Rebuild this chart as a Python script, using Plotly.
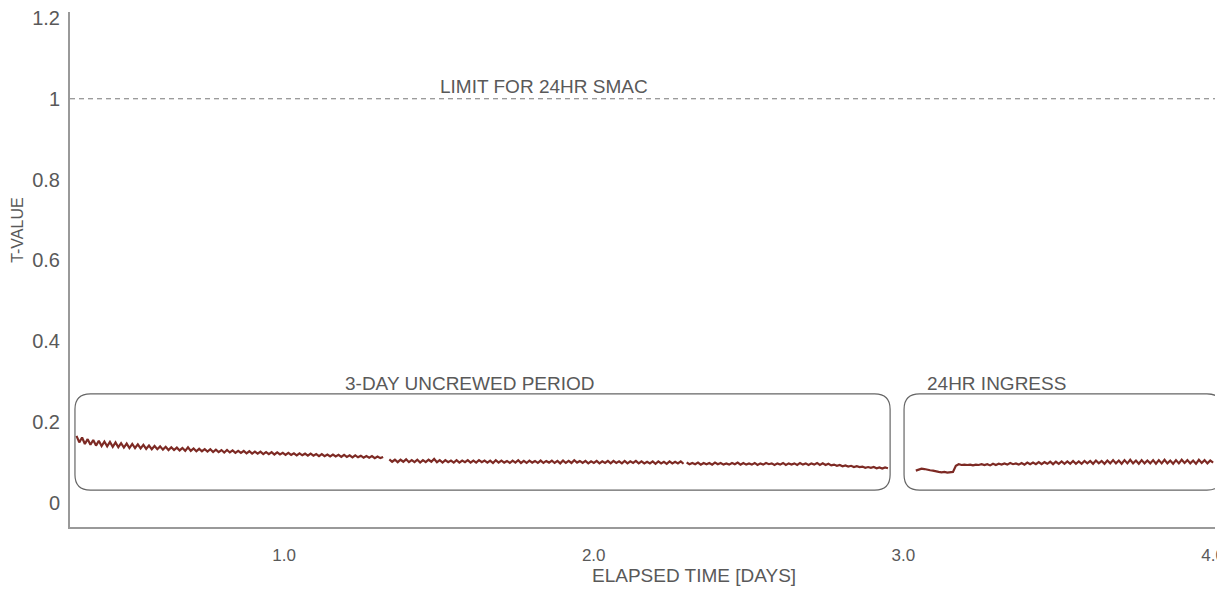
import plotly.graph_objects as go
import numpy as np

# T-value readings, thousandths, per continuous recording segment
seg1_values = [166, 150, 162, 146, 158, 144, 156, 142, 154, 141, 152, 140, 151, 139, 150, 138,
               148, 137, 147, 136, 146, 136, 145, 135, 144, 134, 142, 133, 141, 133, 140, 132,
               139, 131, 138, 131, 137, 130, 136, 129, 138, 129, 135, 128, 134, 128, 133, 127,
               133, 126, 132, 126, 131, 125, 131, 125, 130, 124, 129, 124, 129, 123, 128, 122,
               127, 122, 127, 121, 126, 121, 126, 120, 125, 120, 124, 119, 124, 119, 123, 118,
               123, 118, 122, 117, 122, 117, 121, 116, 121, 116, 120, 115, 120, 115, 119, 114,
               119, 114, 118, 113, 118, 113, 117, 112, 116, 112, 116, 111, 115, 111, 114]
seg2_values = [108, 102, 107, 101, 107, 102, 108, 101, 106, 101, 107, 100, 106, 101, 107, 102,
               109, 101, 106, 100, 106, 101, 105, 100, 106, 100, 105, 101, 106, 100, 105, 100,
               106, 101, 105, 100, 105, 99, 106, 100, 105, 100, 104, 99, 105, 100, 106, 99,
               104, 99, 105, 100, 104, 99, 105, 99, 104, 100, 105, 99, 104, 98, 105, 99,
               104, 99, 106, 100, 104, 99, 104, 98, 103, 99, 104, 98, 103, 99, 104, 98,
               104, 99, 103, 98, 104, 98, 103, 99, 104, 98, 103, 98, 102, 98, 103, 97,
               103, 98, 102, 97, 103, 98, 102, 98, 103, 97]
seg3_values = [100, 96, 99, 96, 100, 95, 99, 96, 99, 95, 100, 96, 99, 95, 98, 95,
               99, 96, 100, 95, 99, 95, 98, 95, 99, 94, 98, 95, 99, 96, 98, 94,
               98, 95, 99, 94, 98, 95, 98, 94, 99, 95, 98, 94, 98, 95, 99, 94,
               98, 94, 97, 93, 95, 92, 94, 91, 93, 90, 92, 89, 91, 89, 90, 87,
               89, 87, 89, 86, 88, 85, 88, 86]
seg4_values = [80, 83, 85, 84, 82, 81, 80, 78, 77, 76, 77, 75, 76, 77, 92, 96,
               94, 95, 94, 95, 93, 95, 94, 96, 94, 96, 93, 97, 94, 97, 95, 98,
               95, 99, 96, 98, 95, 99, 95, 100, 96, 100, 96, 101, 96, 101, 97, 102,
               96, 102, 97, 103, 97, 103, 97, 104, 97, 103, 97, 104, 98, 104, 97, 105,
               98, 104, 97, 105, 98, 106, 98, 105, 97, 106, 98, 107, 98, 105, 97, 106,
               98, 105, 98, 106, 97, 106, 98, 107, 98, 105, 97, 106, 98, 107, 99, 106,
               98, 105, 97, 107, 99, 106, 98, 105, 100]

# segment start / end times [days]
seg_starts = [0.33, 1.34, 2.30, 3.04]
seg_ends = [1.32, 2.29, 2.95, 4.00]

smac_limit = 1.0
x_tickvals = [1, 2, 3, 4]
x_ticktext = ['1.0', '2.0', '3.0', '4.0']

# annotated periods: (label, start, end)
periods = [('3-DAY UNCREWED PERIOD', 0.325, 2.957),
           ('24HR INGRESS', 3.002, 4.03)]
label_x = [1.6, 3.30]

LINE_COLOR = '#7d2a24'
TEXT_COLOR = '#595959'
SANS = 'Liberation Sans, Arial'
NARROW = 'Liberation Sans Narrow, Arial Narrow, Liberation Sans'


def rounded_box(x0, x1, y0, y1, rx=0.05, ry=0.038):
    # SVG path for a rounded rectangle in data coordinates
    return (f"M {x0 + rx},{y0} L {x1 - rx},{y0} Q {x1},{y0} {x1},{y0 + ry} "
            f"L {x1},{y1 - ry} Q {x1},{y1} {x1 - rx},{y1} "
            f"L {x0 + rx},{y1} Q {x0},{y1} {x0},{y1 - ry} "
            f"L {x0},{y0 + ry} Q {x0},{y0} {x0 + rx},{y0} Z")


fig = go.Figure()

segments = [seg1_values, seg2_values, seg3_values, seg4_values]
for vals, t0, t1 in zip(segments, seg_starts, seg_ends):
    t = np.linspace(t0, t1, len(vals))
    fig.add_trace(go.Scatter(
        x=t,
        y=np.array(vals) / 1000.0,
        mode='lines',
        line=dict(color=LINE_COLOR, width=2.2),
        showlegend=False,
        hovertemplate='%{x:.2f} d<br>%{y:.3f}<extra></extra>'
    ))

# SMAC limit line
fig.add_shape(type='line', xref='paper', x0=0, x1=1, yref='y', y0=smac_limit, y1=smac_limit,
              line=dict(color='#777777', width=1, dash='5px,4px'))
fig.add_annotation(x=1.84, y=smac_limit, yshift=12, text='LIMIT FOR 24HR SMAC', showarrow=False,
                   font=dict(family=SANS, size=19, color=TEXT_COLOR))

# period boxes
for label, x0, x1 in periods:
    fig.add_shape(type='path', xref='x', yref='y', path=rounded_box(x0, x1, 0.032, 0.270),
                  line=dict(color='#666666', width=1.2))
for (label, x0, x1), lx in zip(periods, label_x):
    fig.add_annotation(x=lx, y=0.270, yshift=10, text=label, showarrow=False,
                       font=dict(family=SANS, size=19, color=TEXT_COLOR))

# axis titles placed as annotations
fig.add_annotation(xref='paper', yref='paper', x=0.545, y=-0.094, xanchor='center',
                   yanchor='middle', text='ELAPSED TIME [DAYS]', showarrow=False,
                   font=dict(family=NARROW, size=19, color=TEXT_COLOR))
fig.add_annotation(xref='paper', yref='paper', x=-0.0454, y=0.577, xanchor='center',
                   yanchor='middle', textangle=-90, text='T-VALUE', showarrow=False,
                   font=dict(family=SANS, size=16, color=TEXT_COLOR))

fig.update_layout(
    margin=dict(l=62, r=2, t=4, b=60),
    plot_bgcolor='white',
    paper_bgcolor='white',
    xaxis=dict(
        range=[0.309, 4.006],
        tickvals=x_tickvals,
        ticktext=x_ticktext,
        showgrid=False,
        zeroline=False,
        showline=True,
        linecolor='#999999',
        linewidth=2,
        ticks='',
        automargin=False,
        ticklabelstandoff=12,
        ticklabeloverflow='allow',
        tickfont=dict(family=NARROW, size=17, color=TEXT_COLOR),
    ),
    yaxis=dict(
        range=[-0.0594, 1.2147],
        tickvals=[0, 0.2, 0.4, 0.6, 0.8, 1, 1.2],
        showgrid=False,
        zeroline=False,
        showline=True,
        linecolor='#999999',
        linewidth=2,
        ticks='',
        automargin=False,
        ticklabelstandoff=4,
        ticklabeloverflow='allow',
        tickfont=dict(family=SANS, size=20, color=TEXT_COLOR),
    ),
)

fig.write_html("out.html")
